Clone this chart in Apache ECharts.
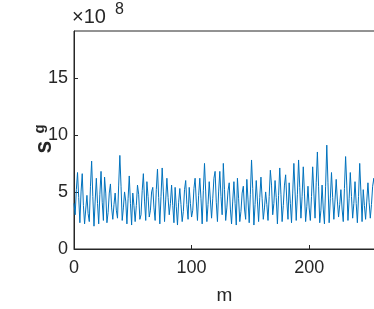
<!DOCTYPE html>
<html>
<head>
<meta charset="utf-8">
<script src="https://cdn.jsdelivr.net/npm/echarts@6/dist/echarts.min.js"></script>
<style>
  html, body { margin: 0; padding: 0; background: #fff; }
  #chart { width: 374px; height: 309px; }
</style>
</head>
<body>
<div id="chart"></div>
<script>
// s_g values in units of 1e8, one per m = 0..256
const sgValues = [
  4.0, 3.0, 5.2, 6.7, 4.5, 2.3, 5.0, 6.6, 3.8, 2.2,
  3.5, 4.7, 3.1, 2.4, 5.5, 7.7, 4.6, 2.0, 4.2, 6.2,
  4.0, 2.2, 4.8, 6.8, 4.1, 2.5, 6.3, 4.9, 2.3, 3.2,
  4.9, 5.7, 3.6, 2.6, 3.9, 4.9, 3.4, 2.7, 5.6, 8.2,
  5.5, 2.5, 3.6, 5.0, 4.2, 2.2, 4.4, 6.4, 4.0, 2.1,
  4.9, 3.8, 2.4, 3.8, 5.6, 4.8, 2.6, 3.0, 5.1, 6.6,
  4.2, 2.5, 5.9, 4.6, 2.8, 3.4, 5.0, 5.4, 3.6, 2.5,
  5.2, 7.0, 4.5, 2.2, 4.6, 7.1, 5.0, 2.4, 4.3, 6.2,
  4.5, 3.0, 4.0, 5.6, 3.8, 2.3, 5.4, 3.7, 2.1, 4.1,
  5.3, 3.9, 2.4, 3.3, 5.2, 6.0, 3.9, 2.6, 5.4, 4.0,
  2.8, 3.4, 5.3, 6.2, 4.2, 2.5, 4.7, 6.2, 4.4, 2.2,
  5.1, 7.5, 5.0, 2.4, 3.9, 5.9, 4.3, 2.7, 4.4, 6.2,
  6.8, 4.1, 2.4, 5.0, 6.8, 4.6, 3.0, 7.5, 5.2, 2.5,
  3.6, 5.1, 5.8, 3.5, 2.2, 4.2, 5.9, 4.0, 2.1, 6.2,
  4.4, 2.4, 3.3, 4.9, 5.5, 3.5, 2.6, 6.1, 4.3, 2.3,
  4.8, 7.8, 5.3, 2.1, 3.9, 6.0, 4.2, 2.4, 4.5, 6.3,
  4.4, 2.6, 3.6, 5.0, 3.9, 2.5, 4.6, 6.9, 5.6, 3.0,
  4.0, 6.0, 4.5, 2.2, 4.7, 7.1, 4.8, 2.4, 3.8, 5.6,
  6.5, 4.2, 2.6, 5.8, 4.0, 2.3, 4.9, 7.5, 5.0, 2.5,
  4.8, 7.8, 5.4, 2.7, 4.6, 7.2, 4.9, 2.4, 3.7, 5.5,
  3.6, 2.5, 4.6, 7.2, 4.9, 2.7, 5.8, 8.5, 5.5, 2.3,
  3.4, 5.6, 3.5, 2.2, 5.5, 9.1, 5.8, 2.3, 4.4, 6.7,
  4.5, 2.6, 4.3, 6.1, 4.2, 2.8, 3.9, 5.2, 3.5, 2.4,
  5.3, 8.1, 5.6, 2.5, 4.4, 6.7, 4.6, 2.7, 4.0, 5.9,
  4.0, 2.3, 4.6, 7.5, 5.0, 2.4, 5.2, 3.8, 2.6, 4.2,
  5.8, 4.1, 2.7, 3.9, 5.5, 6.2, 5.2
];
const xTicks = [0, 100, 200];
const yTicks = [0, 5, 10, 15];
const xMax = 256;
const yMax = 19.1;

const axisColor = "#262626";
const font = "'Liberation Sans', Arial, sans-serif";

const chart = echarts.init(document.getElementById("chart"));

const lineData = sgValues.map((v, i) => [i, v]);

const option = {
    animation: false,
    grid: {
        left: 74, right: -1, top: 31, bottom: 60,
        outerBoundsMode: "none",
        show: true,
        borderColor: axisColor,
        borderWidth: 1,
        backgroundColor: "#fff"
    },
    xAxis: {
        type: "value",
        min: 0,
        max: xMax,
        interval: 100,
        name: "m",
        nameLocation: "middle",
        nameGap: 37,
        nameTextStyle: { color: axisColor, fontSize: 19, fontFamily: font },
        axisLine: { lineStyle: { color: axisColor, width: 1 } },
        axisTick: { inside: true, length: 4, lineStyle: { color: axisColor } },
        splitLine: { show: false },
        axisLabel: {
            color: axisColor, fontSize: 18, fontFamily: font, margin: 10,
            showMaxLabel: false,
            formatter: v => xTicks.includes(v) ? String(v) : ""
        }
    },
    yAxis: {
        type: "value",
        min: 0,
        max: yMax,
        interval: 5,
        axisLine: { show: true, lineStyle: { color: axisColor, width: 1 } },
        axisTick: { inside: true, length: 4, lineStyle: { color: axisColor } },
        splitLine: { show: false },
        axisLabel: {
            color: axisColor, fontSize: 18, fontFamily: font, margin: 6,
            showMaxLabel: false,
            formatter: v => yTicks.includes(v) ? String(v) : ""
        }
    },
    graphic: [
        // ×10^8 exponent above the y axis
        { type: "text", left: 72, top: 7,
          style: { text: "×10", fill: axisColor, font: "20px " + font } },
        { type: "text", left: 115, top: 2,
          style: { text: "8", fill: axisColor, font: "16px " + font } },
        // y label: s with subscript g, rotated
        { type: "text", x: 45, y: 147, rotation: Math.PI / 2,
          style: { text: "s", fill: axisColor, font: "bold 23px " + font,
                   align: "center", verticalAlign: "middle" } },
        { type: "text", x: 40, y: 129, rotation: Math.PI / 2,
          style: { text: "g", fill: axisColor, font: "bold 15px " + font,
                   align: "center", verticalAlign: "middle" } }
    ],
    series: [{
        type: "line",
        data: lineData,
        showSymbol: false,
        lineStyle: { color: "#0072BD", width: 1 },
        itemStyle: { color: "#0072BD" }
    }]
};

chart.setOption(option);
</script>
</body>
</html>
